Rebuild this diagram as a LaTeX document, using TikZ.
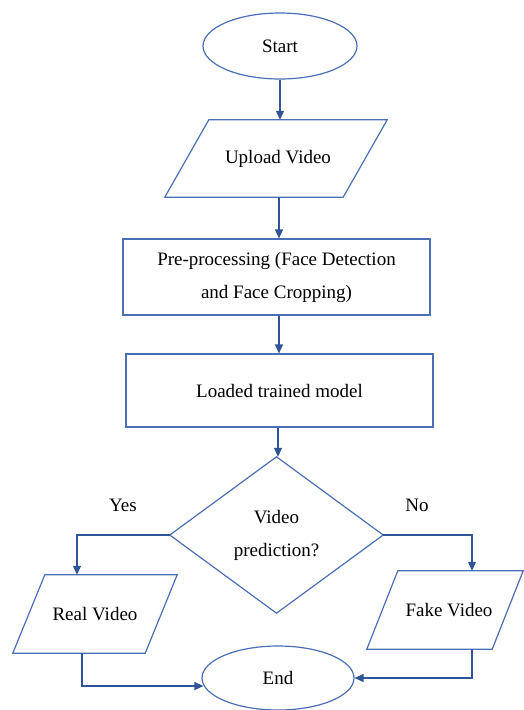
\documentclass[tikz,border=0pt]{standalone}
\usepackage{fontspec}
\setmainfont{Liberation Serif}
\usetikzlibrary{arrows.meta,shapes.geometric}
\definecolor{shapeblue}{HTML}{4A6FB5}
\definecolor{arrowblue}{HTML}{2F5597}
\begin{document}
\begin{tikzpicture}[x=1pt,y=-1pt,
  txt/.style={font=\fontsize{19}{33}\selectfont, align=center, inner sep=0pt},
  inv/.style={txt, draw=none, rectangle},
  outline/.style={draw=shapeblue, line width=1.2pt, line join=miter},
  boxnode/.style={txt, draw=shapeblue, line width=1.2pt, rectangle},
  ovalnode/.style={txt, draw=shapeblue, line width=1.2pt, ellipse},
  conn/.style={draw=arrowblue, line width=1.2pt, -{Triangle[width=8pt,length=9pt]}},
  plain/.style={draw=arrowblue, line width=1.2pt}]
\useasboundingbox[fill=white] (0,0) rectangle (524,710);

\node[ovalnode, minimum width=154, minimum height=66] (start) at (280,46) {Start};

\node[inv, minimum width=222, minimum height=77] (up) at (276,158.5) {\hspace*{4pt}Upload Video};
\draw[outline] ([xshift=44pt]up.north west) -- (up.north east)
  -- ([xshift=-44pt]up.south east) -- (up.south west) -- cycle;

\node[boxnode, minimum width=307, minimum height=76] (pre) at (276.5,277)
  {Pre-processing (Face Detection\\and Face Cropping)};

\node[boxnode, minimum width=307, minimum height=73] (load) at (279.5,390.5)
  {Loaded trained model};

\node[inv, minimum width=213, minimum height=156] (dec) at (276.5,535)
  {Video\\prediction?};
\draw[outline] (dec.north) -- (dec.east) -- (dec.south) -- (dec.west) -- cycle;

\node[inv, minimum width=164, minimum height=78] (real) at (95,614) {Real Video};
\draw[outline] ([xshift=32pt]real.north west) -- (real.north east)
  -- ([xshift=-32pt]real.south east) -- (real.south west) -- cycle;

\node[inv, minimum width=156, minimum height=78] (fake) at (445,610) {\hspace*{8pt}Fake Video};
\draw[outline] ([xshift=31pt]fake.north west) -- (fake.north east)
  -- ([xshift=-31pt]fake.south east) -- (fake.south west) -- cycle;

\node[ovalnode, minimum width=152, minimum height=64] (end) at (278,678) {End};

\node[txt] (yes) at (123,505) {Yes};
\node[txt] (no) at (417,505) {No};

\draw[conn] (start.south) -- (start.south |- up.north);
\draw[conn] ([xshift=3pt]up.south) -- ([xshift=3pt]up.south |- pre.north);
\draw[conn] ([xshift=2.5pt]pre.south) -- ([xshift=2.5pt]pre.south |- load.north);
\draw[conn] ([xshift=-1.5pt]load.south) -- ([xshift=-1.5pt]load.south |- dec.north);
\draw[conn] (dec.west) -| ([xshift=-18pt]real.north);
\draw[conn] (dec.east) -| ([xshift=27pt]fake.north);
\coordinate (endl) at ([xshift=2pt,yshift=-8pt]end.west);
\draw[conn] ([xshift=-13pt]real.south) |- (endl);
\draw[conn] ([xshift=27pt]fake.south) |- (end.east);
\end{tikzpicture}
\end{document}
